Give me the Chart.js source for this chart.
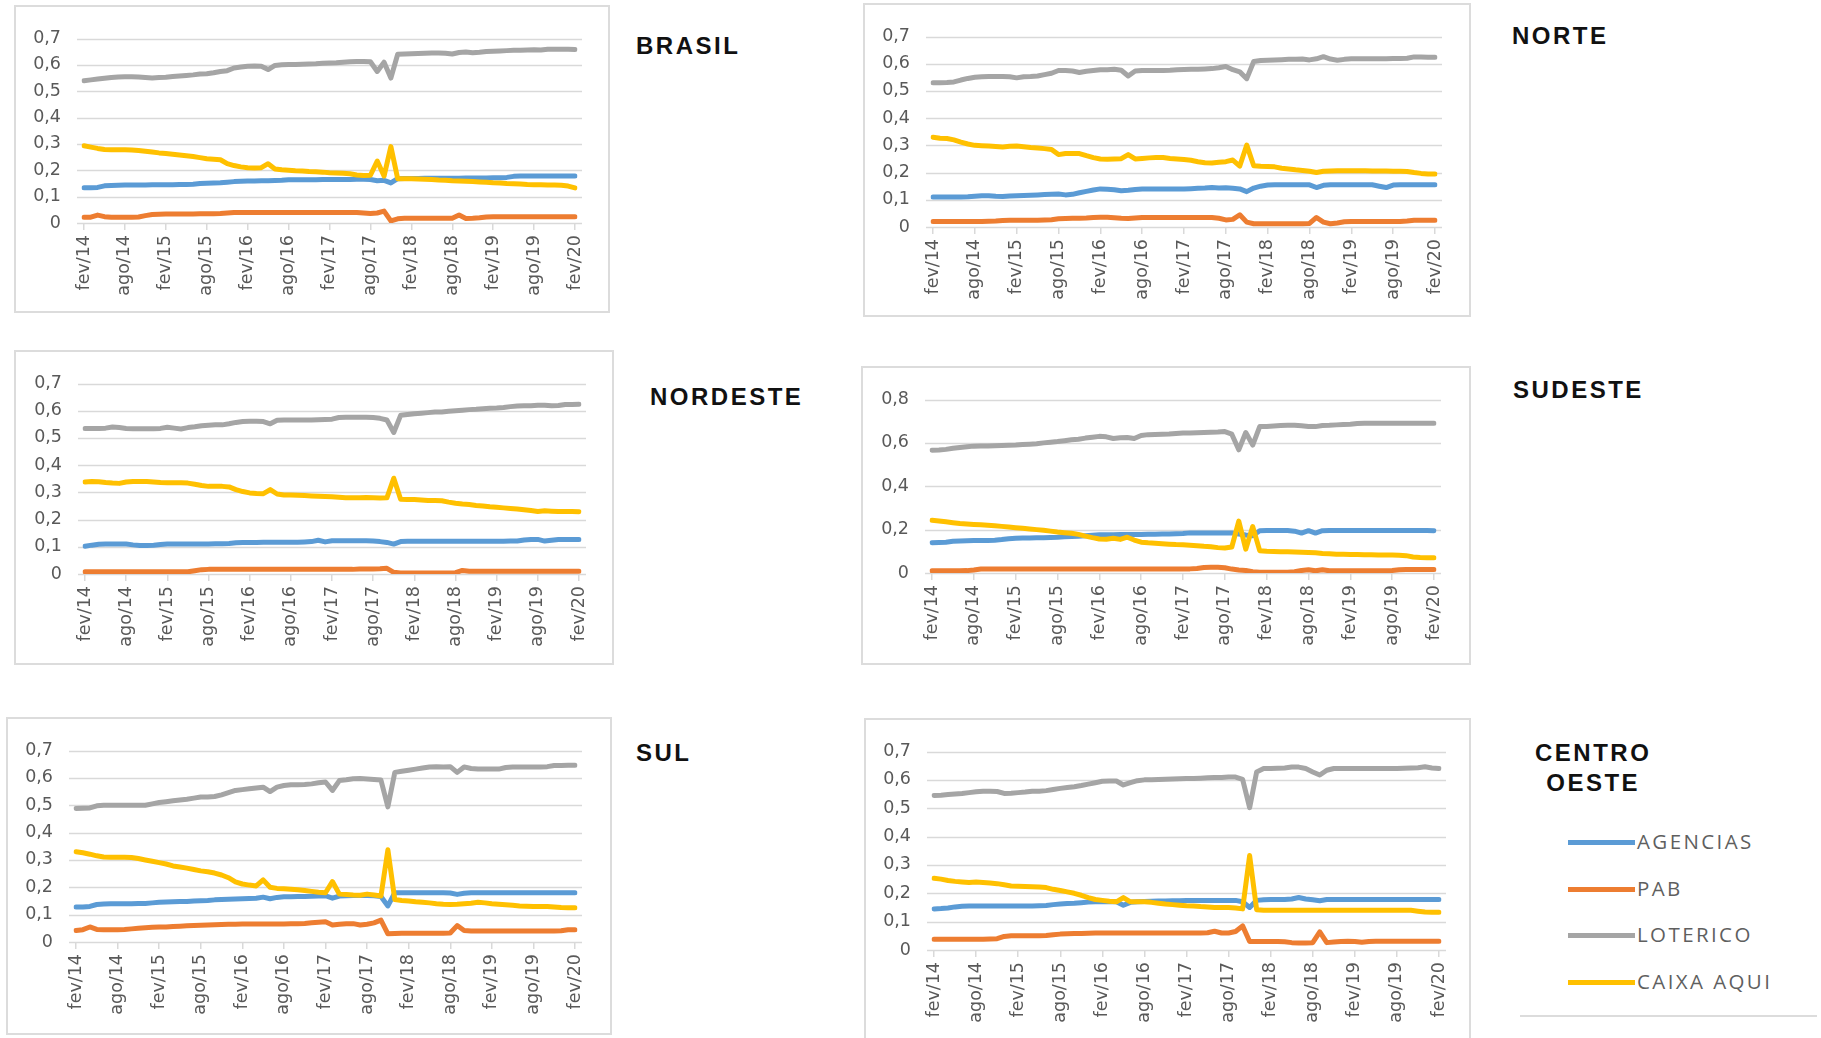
<!DOCTYPE html>
<html>
<head>
<meta charset="utf-8">
<script src="https://cdn.jsdelivr.net/npm/chart.js@4.4.1/dist/chart.umd.min.js"></script>
<style>
  html, body { margin: 0; padding: 0; background: #ffffff; }
  body { width: 1821px; height: 1038px; position: relative; overflow: hidden; }
  .panel { position: absolute; }
  .panel .box { position: absolute; left: 0; top: 0; right: 0; bottom: 0; border: 2px solid #dcdcdc; box-sizing: border-box; }
  .panel canvas { position: absolute; left: 0; top: 0; }
  .title { position: absolute; font-family: "Liberation Sans", Arial, sans-serif; font-weight: bold;
           font-size: 24px; letter-spacing: 2.5px; color: #111; line-height: 30px; white-space: nowrap; text-align: center; }
  .legend { position: absolute; left: 1568px; top: 825px; font-family: "Open Sans", Lato, sans-serif; }
  .legend .item { position: relative; height: 46.7px; }
  .legend .swatch { position: absolute; left: 0; top: 15px; width: 67px; height: 5px; }
  .legend .label { position: absolute; left: 69px; top: 2px; font-size: 20.5px; letter-spacing: 2.4px; color: #5f5f5f; white-space: nowrap; line-height: 28px; }
  .rule { position: absolute; left: 1520px; top: 1015px; width: 297px; height: 2px; background: #dcdcdc; }
</style>
</head>
<body>
<script>
// Monthly category axis: fev/14 .. fev/20
const monthNames = ['jan','fev','mar','abr','mai','jun','jul','ago','set','out','nov','dez'];
const categories = [];
for (let i = 0; i < 73; i++) {
  categories.push(monthNames[(1 + i) % 12] + '/' + (14 + Math.floor((1 + i) / 12)));
}
const tickLabels = ['fev/14','ago/14','fev/15','ago/15','fev/16','ago/16','fev/17','ago/17','fev/18','ago/18','fev/19','ago/19','fev/20'];

const seriesNames = ['AGENCIAS', 'PAB', 'LOTERICO', 'CAIXA AQUI'];
const seriesColors = ['#5B9BD5', '#ED7D31', '#A5A5A5', '#FFC000'];

// ---------------- BRASIL ----------------
const brasilAgencias = [
  0.134,0.134,0.135,0.141,0.142,0.143,0.144,0.144,0.144,0.144,0.145,0.145,
  0.145,0.145,0.146,0.146,0.147,0.150,0.151,0.152,0.153,0.155,0.157,0.158,
  0.159,0.159,0.160,0.160,0.161,0.162,0.164,0.164,0.164,0.164,0.164,0.165,
  0.165,0.165,0.165,0.165,0.166,0.166,0.165,0.160,0.162,0.152,0.168,0.169,
  0.169,0.169,0.170,0.170,0.170,0.170,0.170,0.170,0.171,0.171,0.171,0.171,
  0.172,0.172,0.173,0.177,0.178,0.178,0.178,0.178,0.178,0.178,0.178,0.178,
  0.178];
const brasilPab = [
  0.022,0.022,0.030,0.024,0.022,0.022,0.022,0.022,0.023,0.028,0.032,0.033,
  0.034,0.034,0.034,0.034,0.034,0.035,0.035,0.035,0.036,0.038,0.040,0.040,
  0.040,0.040,0.040,0.040,0.040,0.040,0.040,0.040,0.040,0.040,0.040,0.040,
  0.040,0.040,0.040,0.040,0.040,0.038,0.036,0.038,0.045,0.008,0.016,0.018,
  0.018,0.018,0.018,0.018,0.018,0.018,0.018,0.030,0.017,0.018,0.020,0.023,
  0.024,0.024,0.024,0.024,0.024,0.024,0.024,0.024,0.024,0.024,0.024,0.024,
  0.024];
const brasilLoterico = [
  0.540,0.543,0.546,0.549,0.552,0.554,0.555,0.555,0.554,0.552,0.550,0.552,
  0.553,0.556,0.558,0.560,0.562,0.565,0.566,0.570,0.575,0.578,0.588,0.592,
  0.595,0.596,0.595,0.582,0.598,0.600,0.601,0.601,0.602,0.603,0.604,0.606,
  0.607,0.608,0.610,0.612,0.613,0.613,0.612,0.575,0.610,0.550,0.640,0.641,
  0.642,0.643,0.644,0.645,0.645,0.644,0.641,0.647,0.649,0.646,0.648,0.651,
  0.652,0.653,0.654,0.655,0.655,0.656,0.657,0.656,0.659,0.659,0.659,0.659,
  0.658];
const brasilCaixaAqui = [
  0.293,0.288,0.283,0.279,0.278,0.278,0.278,0.277,0.275,0.272,0.269,0.266,
  0.264,0.261,0.258,0.255,0.252,0.248,0.244,0.242,0.240,0.225,0.218,0.213,
  0.210,0.209,0.210,0.225,0.205,0.202,0.200,0.198,0.197,0.195,0.194,0.193,
  0.191,0.190,0.189,0.187,0.182,0.180,0.181,0.235,0.178,0.290,0.168,0.168,
  0.168,0.167,0.166,0.165,0.163,0.162,0.160,0.159,0.158,0.157,0.156,0.155,
  0.153,0.152,0.150,0.149,0.148,0.146,0.145,0.145,0.144,0.144,0.143,0.140,
  0.133];

// ---------------- NORTE ----------------
const norteAgencias = [
  0.110,0.110,0.110,0.110,0.110,0.111,0.113,0.115,0.115,0.113,0.112,0.114,
  0.115,0.116,0.117,0.118,0.119,0.120,0.121,0.118,0.120,0.126,0.131,0.136,
  0.140,0.139,0.137,0.133,0.135,0.138,0.140,0.140,0.140,0.140,0.140,0.140,
  0.140,0.141,0.142,0.143,0.145,0.143,0.144,0.142,0.140,0.130,0.143,0.150,
  0.154,0.155,0.155,0.155,0.155,0.155,0.155,0.145,0.153,0.155,0.155,0.155,
  0.155,0.155,0.155,0.155,0.150,0.145,0.154,0.155,0.155,0.155,0.155,0.155,
  0.155];
const nortePab = [
  0.020,0.020,0.020,0.020,0.020,0.020,0.020,0.020,0.021,0.022,0.024,0.025,
  0.025,0.025,0.025,0.025,0.026,0.027,0.030,0.031,0.032,0.032,0.033,0.035,
  0.036,0.036,0.034,0.032,0.031,0.033,0.035,0.035,0.035,0.035,0.035,0.035,
  0.035,0.035,0.035,0.035,0.035,0.032,0.026,0.028,0.045,0.018,0.012,0.012,
  0.012,0.012,0.012,0.012,0.012,0.012,0.013,0.035,0.018,0.012,0.015,0.019,
  0.020,0.020,0.020,0.020,0.020,0.020,0.020,0.020,0.022,0.025,0.025,0.025,
  0.025];
const norteLoterico = [
  0.530,0.530,0.531,0.533,0.540,0.546,0.550,0.552,0.553,0.553,0.553,0.552,
  0.548,0.552,0.553,0.555,0.560,0.565,0.575,0.575,0.573,0.568,0.572,0.575,
  0.578,0.578,0.580,0.576,0.555,0.573,0.575,0.575,0.575,0.575,0.576,0.578,
  0.579,0.580,0.580,0.581,0.582,0.585,0.590,0.578,0.570,0.545,0.608,0.612,
  0.613,0.614,0.615,0.616,0.616,0.617,0.614,0.618,0.626,0.617,0.613,0.616,
  0.618,0.618,0.618,0.618,0.618,0.618,0.619,0.619,0.620,0.625,0.625,0.624,
  0.624];
const norteCaixaAqui = [
  0.330,0.326,0.325,0.320,0.312,0.305,0.300,0.299,0.298,0.296,0.294,0.297,
  0.298,0.295,0.292,0.290,0.288,0.285,0.266,0.270,0.270,0.270,0.262,0.255,
  0.250,0.249,0.250,0.251,0.266,0.250,0.252,0.254,0.255,0.255,0.252,0.250,
  0.248,0.245,0.240,0.236,0.235,0.238,0.240,0.246,0.224,0.301,0.225,0.223,
  0.222,0.221,0.216,0.213,0.210,0.208,0.205,0.200,0.205,0.206,0.207,0.207,
  0.207,0.207,0.207,0.206,0.206,0.206,0.205,0.205,0.204,0.200,0.197,0.195,
  0.195];

// ---------------- NORDESTE ----------------
const nordesteAgencias = [
  0.102,0.106,0.109,0.110,0.110,0.110,0.110,0.107,0.105,0.105,0.106,0.108,
  0.110,0.110,0.110,0.110,0.110,0.110,0.110,0.111,0.111,0.112,0.115,0.116,
  0.116,0.116,0.117,0.117,0.117,0.117,0.117,0.117,0.118,0.119,0.124,0.118,
  0.122,0.122,0.122,0.122,0.122,0.122,0.121,0.119,0.116,0.110,0.119,0.120,
  0.120,0.120,0.120,0.120,0.120,0.120,0.120,0.120,0.120,0.120,0.120,0.120,
  0.120,0.120,0.121,0.121,0.125,0.127,0.127,0.121,0.124,0.127,0.127,0.127,
  0.127];
const nordestePab = [
  0.008,0.008,0.008,0.008,0.008,0.008,0.008,0.008,0.008,0.008,0.008,0.008,
  0.008,0.008,0.008,0.008,0.012,0.016,0.017,0.017,0.017,0.017,0.017,0.017,
  0.017,0.017,0.017,0.017,0.017,0.017,0.017,0.017,0.017,0.017,0.017,0.017,
  0.017,0.017,0.017,0.017,0.018,0.018,0.018,0.019,0.021,0.006,0.004,0.004,
  0.004,0.004,0.004,0.004,0.004,0.004,0.005,0.013,0.010,0.010,0.010,0.010,
  0.010,0.010,0.010,0.010,0.010,0.010,0.010,0.010,0.010,0.010,0.010,0.010,
  0.010];
const nordesteLoterico = [
  0.535,0.535,0.535,0.536,0.540,0.538,0.535,0.534,0.534,0.534,0.534,0.535,
  0.539,0.536,0.533,0.538,0.541,0.545,0.547,0.548,0.548,0.552,0.557,0.560,
  0.561,0.561,0.560,0.552,0.565,0.566,0.566,0.566,0.566,0.566,0.567,0.568,
  0.569,0.575,0.576,0.576,0.576,0.576,0.575,0.572,0.566,0.520,0.583,0.586,
  0.589,0.591,0.593,0.595,0.595,0.598,0.600,0.602,0.604,0.605,0.607,0.609,
  0.610,0.612,0.615,0.617,0.618,0.618,0.620,0.620,0.618,0.619,0.623,0.623,
  0.624];
const nordesteCaixaAqui = [
  0.338,0.340,0.339,0.336,0.334,0.333,0.338,0.340,0.340,0.340,0.338,0.336,
  0.335,0.335,0.335,0.334,0.330,0.325,0.322,0.322,0.322,0.320,0.310,0.303,
  0.298,0.296,0.295,0.310,0.294,0.290,0.290,0.289,0.288,0.287,0.286,0.285,
  0.284,0.282,0.280,0.280,0.280,0.281,0.280,0.279,0.280,0.352,0.275,0.274,
  0.274,0.272,0.270,0.270,0.269,0.264,0.260,0.257,0.255,0.252,0.250,0.247,
  0.245,0.243,0.241,0.239,0.236,0.233,0.230,0.232,0.231,0.230,0.230,0.230,
  0.229];

// ---------------- SUDESTE ----------------
const sudesteAgencias = [
  0.140,0.141,0.142,0.146,0.148,0.149,0.150,0.150,0.150,0.151,0.154,0.158,
  0.160,0.161,0.161,0.162,0.163,0.164,0.165,0.167,0.168,0.170,0.172,0.174,
  0.176,0.176,0.176,0.177,0.177,0.178,0.178,0.179,0.179,0.180,0.180,0.181,
  0.182,0.185,0.185,0.185,0.185,0.185,0.185,0.185,0.180,0.175,0.172,0.195,
  0.196,0.196,0.196,0.196,0.193,0.184,0.195,0.184,0.195,0.196,0.196,0.196,
  0.196,0.196,0.196,0.196,0.196,0.196,0.196,0.196,0.196,0.196,0.196,0.196,
  0.195];
const sudestePab = [
  0.010,0.010,0.010,0.010,0.010,0.011,0.014,0.018,0.019,0.019,0.019,0.019,
  0.019,0.019,0.019,0.019,0.019,0.019,0.019,0.019,0.019,0.019,0.019,0.019,
  0.019,0.019,0.019,0.019,0.019,0.019,0.019,0.019,0.019,0.019,0.019,0.019,
  0.019,0.019,0.021,0.025,0.026,0.026,0.024,0.018,0.014,0.012,0.006,0.003,
  0.003,0.003,0.003,0.004,0.006,0.012,0.015,0.010,0.015,0.010,0.010,0.010,
  0.010,0.010,0.010,0.010,0.010,0.010,0.012,0.015,0.016,0.016,0.016,0.016,
  0.016];
const sudesteLoterico = [
  0.566,0.567,0.570,0.575,0.579,0.582,0.585,0.586,0.586,0.587,0.588,0.589,
  0.590,0.592,0.594,0.596,0.600,0.603,0.606,0.610,0.614,0.617,0.622,0.626,
  0.630,0.628,0.620,0.624,0.625,0.620,0.634,0.638,0.639,0.640,0.641,0.643,
  0.645,0.646,0.647,0.648,0.649,0.650,0.652,0.640,0.568,0.648,0.590,0.675,
  0.676,0.678,0.680,0.681,0.681,0.679,0.676,0.675,0.680,0.681,0.683,0.685,
  0.686,0.689,0.690,0.690,0.690,0.690,0.690,0.690,0.690,0.690,0.690,0.690,
  0.690];
const sudesteCaixaAqui = [
  0.243,0.240,0.236,0.232,0.228,0.226,0.224,0.222,0.220,0.218,0.215,0.212,
  0.209,0.206,0.203,0.200,0.197,0.193,0.189,0.186,0.183,0.178,0.170,0.163,
  0.157,0.156,0.160,0.155,0.165,0.152,0.142,0.139,0.137,0.135,0.133,0.131,
  0.130,0.128,0.126,0.123,0.121,0.117,0.115,0.120,0.239,0.110,0.214,0.103,
  0.100,0.099,0.098,0.098,0.097,0.096,0.095,0.093,0.090,0.089,0.087,0.086,
  0.085,0.085,0.084,0.084,0.083,0.083,0.083,0.082,0.080,0.074,0.071,0.070,
  0.070];

// ---------------- SUL ----------------
const sulAgencias = [
  0.128,0.128,0.130,0.137,0.139,0.140,0.140,0.140,0.140,0.141,0.141,0.143,
  0.145,0.146,0.147,0.148,0.148,0.150,0.151,0.152,0.154,0.155,0.156,0.157,
  0.158,0.159,0.160,0.164,0.158,0.163,0.165,0.165,0.166,0.166,0.167,0.168,
  0.169,0.160,0.168,0.169,0.170,0.170,0.170,0.169,0.166,0.132,0.180,0.180,
  0.180,0.180,0.180,0.180,0.180,0.180,0.179,0.174,0.178,0.180,0.180,0.180,
  0.180,0.180,0.180,0.180,0.180,0.180,0.180,0.180,0.180,0.180,0.180,0.180,
  0.180];
const sulPab = [
  0.042,0.045,0.055,0.046,0.045,0.045,0.045,0.046,0.048,0.050,0.052,0.054,
  0.055,0.055,0.057,0.058,0.059,0.060,0.061,0.062,0.063,0.064,0.065,0.065,
  0.066,0.066,0.066,0.066,0.066,0.066,0.066,0.067,0.067,0.068,0.070,0.072,
  0.074,0.062,0.065,0.067,0.067,0.062,0.065,0.070,0.080,0.030,0.031,0.032,
  0.032,0.032,0.032,0.032,0.032,0.032,0.033,0.060,0.042,0.040,0.040,0.040,
  0.040,0.040,0.040,0.040,0.040,0.040,0.040,0.040,0.040,0.040,0.041,0.045,
  0.045];
const sulLoterico = [
  0.488,0.489,0.490,0.498,0.500,0.500,0.500,0.500,0.500,0.500,0.500,0.505,
  0.510,0.513,0.516,0.519,0.522,0.526,0.530,0.530,0.532,0.538,0.546,0.554,
  0.557,0.560,0.563,0.566,0.550,0.566,0.572,0.575,0.575,0.576,0.578,0.582,
  0.585,0.554,0.590,0.593,0.597,0.598,0.596,0.594,0.592,0.494,0.620,0.624,
  0.628,0.632,0.636,0.640,0.641,0.640,0.641,0.620,0.640,0.634,0.632,0.632,
  0.632,0.632,0.638,0.640,0.640,0.640,0.640,0.640,0.641,0.645,0.645,0.646,
  0.646];
const sulCaixaAqui = [
  0.330,0.326,0.321,0.315,0.311,0.310,0.310,0.310,0.309,0.305,0.300,0.295,
  0.290,0.285,0.278,0.274,0.270,0.265,0.260,0.257,0.252,0.245,0.235,0.220,
  0.212,0.208,0.205,0.227,0.200,0.196,0.195,0.193,0.191,0.188,0.185,0.182,
  0.180,0.221,0.175,0.174,0.172,0.171,0.175,0.172,0.168,0.337,0.155,0.152,
  0.150,0.147,0.145,0.143,0.140,0.138,0.137,0.138,0.140,0.142,0.145,0.143,
  0.140,0.138,0.136,0.134,0.132,0.131,0.130,0.130,0.130,0.128,0.126,0.125,
  0.125];

// ---------------- CENTRO OESTE ----------------
const centroOesteAgencias = [
  0.145,0.146,0.148,0.152,0.154,0.155,0.155,0.155,0.155,0.155,0.155,0.155,
  0.155,0.155,0.155,0.156,0.157,0.160,0.162,0.164,0.165,0.167,0.169,0.170,
  0.170,0.170,0.170,0.158,0.168,0.170,0.171,0.172,0.173,0.173,0.174,0.174,
  0.175,0.175,0.175,0.175,0.175,0.175,0.175,0.175,0.170,0.150,0.175,0.177,
  0.178,0.178,0.178,0.180,0.185,0.180,0.177,0.174,0.178,0.178,0.178,0.178,
  0.178,0.178,0.178,0.178,0.178,0.178,0.178,0.178,0.178,0.178,0.178,0.178,
  0.178];
const centroOestePab = [
  0.038,0.038,0.038,0.038,0.038,0.038,0.038,0.038,0.039,0.040,0.048,0.050,
  0.050,0.050,0.050,0.050,0.051,0.054,0.056,0.057,0.058,0.058,0.059,0.060,
  0.060,0.060,0.060,0.060,0.060,0.060,0.060,0.060,0.060,0.060,0.060,0.060,
  0.060,0.060,0.060,0.061,0.066,0.060,0.060,0.065,0.085,0.030,0.030,0.030,
  0.030,0.030,0.029,0.026,0.025,0.025,0.026,0.064,0.026,0.028,0.030,0.031,
  0.030,0.027,0.030,0.031,0.031,0.031,0.031,0.031,0.031,0.031,0.031,0.031,
  0.031];
const centroOesteLoterico = [
  0.545,0.546,0.548,0.550,0.552,0.555,0.558,0.560,0.560,0.559,0.552,0.553,
  0.555,0.557,0.560,0.560,0.562,0.566,0.570,0.573,0.576,0.580,0.585,0.590,
  0.595,0.596,0.596,0.582,0.590,0.597,0.600,0.600,0.601,0.602,0.603,0.604,
  0.605,0.605,0.606,0.607,0.608,0.608,0.610,0.610,0.602,0.502,0.628,0.640,
  0.640,0.641,0.642,0.645,0.645,0.640,0.628,0.617,0.634,0.640,0.640,0.640,
  0.640,0.640,0.640,0.640,0.640,0.640,0.640,0.641,0.642,0.643,0.646,0.642,
  0.640];
const centroOesteCaixaAqui = [
  0.253,0.250,0.245,0.242,0.240,0.238,0.240,0.238,0.236,0.234,0.230,0.226,
  0.225,0.224,0.223,0.222,0.220,0.214,0.210,0.205,0.200,0.193,0.185,0.178,
  0.175,0.172,0.170,0.185,0.170,0.170,0.170,0.168,0.165,0.162,0.160,0.158,
  0.156,0.155,0.153,0.152,0.150,0.150,0.150,0.148,0.145,0.333,0.142,0.140,
  0.140,0.140,0.140,0.140,0.140,0.140,0.140,0.140,0.140,0.140,0.140,0.140,
  0.140,0.140,0.140,0.140,0.140,0.140,0.140,0.140,0.140,0.137,0.134,0.133,
  0.133];

// Panel layout: outer frame [x, y, w, h] and plot area [left, top, right, bottom] in page pixels
const panels = [
  { title: ['BRASIL'], titleAt: [636, 46], yMax: 0.7, yStep: 0.1,
    frame: [14, 5, 596, 308], plot: [84, 32, 575, 223],
    series: [brasilAgencias, brasilPab, brasilLoterico, brasilCaixaAqui] },
  { title: ['NORTE'], titleAt: [1512, 36], yMax: 0.7, yStep: 0.1,
    frame: [863, 3, 608, 314], plot: [933, 28, 1435, 227],
    series: [norteAgencias, nortePab, norteLoterico, norteCaixaAqui] },
  { title: ['NORDESTE'], titleAt: [650, 397], yMax: 0.7, yStep: 0.1,
    frame: [14, 350, 600, 315], plot: [85, 377, 579, 574],
    series: [nordesteAgencias, nordestePab, nordesteLoterico, nordesteCaixaAqui] },
  { title: ['SUDESTE'], titleAt: [1513, 390], yMax: 0.8, yStep: 0.2,
    frame: [861, 366, 610, 299], plot: [932, 392, 1434, 573],
    series: [sudesteAgencias, sudestePab, sudesteLoterico, sudesteCaixaAqui] },
  { title: ['SUL'], titleAt: [636, 753], yMax: 0.7, yStep: 0.1,
    frame: [6, 717, 606, 318], plot: [76, 741, 575, 942],
    series: [sulAgencias, sulPab, sulLoterico, sulCaixaAqui] },
  { title: ['CENTRO', 'OESTE'], titleAt: [1535, 753], yMax: 0.7, yStep: 0.1,
    frame: [864, 718, 607, 325], plot: [934, 742, 1439, 950],
    series: [centroOesteAgencias, centroOestePab, centroOesteLoterico, centroOesteCaixaAqui] }
];

const axisFont = { family: '"DejaVu Sans", Verdana, sans-serif', size: 17.5 };
const gridGray = '#d9d9d9';
const textGray = '#595959';
const GRID_OVERHANG = 7;

function formatY(v) {
  if (Math.abs(v) < 1e-9) return '0';
  return v.toFixed(1).replace('.', ',');
}

// Horizontal gridlines that run a little past the first and last category
const overhangGrid = {
  id: 'overhangGrid',
  beforeDatasetsDraw(chart) {
    const y = chart.scales.y;
    const area = chart.chartArea;
    const ctx = chart.ctx;
    ctx.save();
    ctx.strokeStyle = gridGray;
    ctx.lineWidth = 1.3;
    y.ticks.forEach(function (t) {
      const py = Math.round(y.getPixelForValue(t.value)) + 0.5;
      ctx.beginPath();
      ctx.moveTo(area.left - GRID_OVERHANG, py);
      ctx.lineTo(area.right + GRID_OVERHANG, py);
      ctx.stroke();
    });
    ctx.restore();
  }
};

panels.forEach(function (p) {
  const [fx, fy, fw, fh] = p.frame;
  const [pl, pt, pr, pb] = p.plot;

  const wrap = document.createElement('div');
  wrap.className = 'panel';
  wrap.style.left = fx + 'px';
  wrap.style.top = fy + 'px';
  wrap.style.width = fw + 'px';
  wrap.style.height = fh + 'px';
  const box = document.createElement('div');
  box.className = 'box';
  const canvas = document.createElement('canvas');
  canvas.width = fw;
  canvas.height = fh;
  canvas.style.width = fw + 'px';
  canvas.style.height = fh + 'px';
  wrap.appendChild(box);
  wrap.appendChild(canvas);
  document.body.appendChild(wrap);

  const yAxisWidth = pl - fx;
  const xAxisHeight = fy + fh - pb;

  new Chart(canvas, {
    type: 'line',
    data: {
      labels: categories,
      datasets: p.series.map(function (values, i) {
        return {
          label: seriesNames[i],
          data: values,
          borderColor: seriesColors[i],
          backgroundColor: seriesColors[i],
          borderWidth: 5,
          pointRadius: 0,
          tension: 0,
          borderJoinStyle: 'round',
          borderCapStyle: 'round',
          fill: false,
          order: 4 - i
        };
      })
    },
    plugins: [overhangGrid],
    options: {
      responsive: false,
      animation: false,
      devicePixelRatio: 1,
      layout: { padding: { left: 0, top: pt - fy, right: fx + fw - pr, bottom: 0 } },
      plugins: { legend: { display: false }, tooltip: { enabled: false } },
      scales: {
        x: {
          type: 'category',
          offset: false,
          afterFit: function (scale) { scale.height = xAxisHeight; },
          grid: {
            display: true,
            drawOnChartArea: false,
            drawTicks: true,
            tickLength: 7,
            lineWidth: 1.5,
            color: function (ctx) {
              return tickLabels.includes(categories[ctx.index]) ? gridGray : 'rgba(0,0,0,0)';
            }
          },
          border: { display: false },
          ticks: {
            autoSkip: false,
            minRotation: 90,
            maxRotation: 90,
            padding: 5,
            color: textGray,
            font: axisFont,
            callback: function (value) {
              const lab = this.getLabelForValue(value);
              return tickLabels.includes(lab) ? lab : '';
            }
          }
        },
        y: {
          min: 0,
          max: p.yMax,
          afterFit: function (scale) { scale.width = yAxisWidth; },
          grid: { display: false, drawTicks: false },
          border: { display: false },
          ticks: {
            stepSize: p.yStep,
            padding: 23,
            color: textGray,
            font: axisFont,
            callback: formatY
          }
        }
      }
    }
  });

  const t = document.createElement('div');
  t.className = 'title';
  t.style.left = p.titleAt[0] + 'px';
  t.style.top = (p.titleAt[1] - 15) + 'px';
  t.innerHTML = p.title.join('<br>');
  document.body.appendChild(t);
});

// Legend for the four series
const legend = document.createElement('div');
legend.className = 'legend';
seriesNames.forEach(function (name, i) {
  const item = document.createElement('div');
  item.className = 'item';
  const sw = document.createElement('div');
  sw.className = 'swatch';
  sw.style.background = seriesColors[i];
  const lb = document.createElement('div');
  lb.className = 'label';
  lb.textContent = name;
  item.appendChild(sw);
  item.appendChild(lb);
  legend.appendChild(item);
});
document.body.appendChild(legend);
const rule = document.createElement('div');
rule.className = 'rule';
document.body.appendChild(rule);
</script>
</body>
</html>
